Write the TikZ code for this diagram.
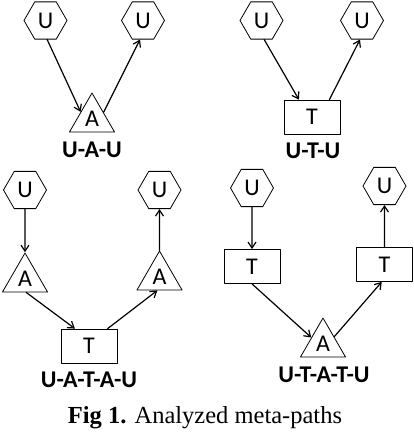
\documentclass[tikz,border=0pt]{standalone}
\usepackage{fontspec}
\setmainfont{Liberation Serif}
\setsansfont{Carlito}
\usetikzlibrary{shapes.geometric,arrows.meta}
\begin{document}
\begin{tikzpicture}[x=1pt,y=-1pt,>={Straight Barb[length=6pt,width=8pt]}, line join=round, line cap=round,
  font=\sffamily\fontsize{24}{27}\selectfont,
  user/.style={draw,regular polygon,regular polygon sides=6,minimum size=43pt,inner sep=0pt,line width=.8pt},
  tag/.style={draw,regular polygon,regular polygon sides=3,minimum size=52pt,inner sep=0pt,line width=.8pt},
  term/.style={draw,rectangle,minimum width=56pt,minimum height=34pt,inner sep=0pt,line width=.8pt},
  pathname/.style={font=\sffamily\bfseries\fontsize{24}{27}\selectfont,inner sep=0pt},
  link/.style={->,line width=1.2pt}]
\useasboundingbox (0,0) rectangle (414,432);
% U-A-U
\node[user] (u1) at (45.5,20.5) {U};
\node[user] (u2) at (143,20.5) {U};
\node[tag] (a1) at (92,119) {A};
\node[pathname] (p1) at (92,149.5) {U-A-U};
\draw[link] (u1.-85) -- (a1.148);
\draw[link] (a1.30) -- (u2.-99);
% U-T-U
\node[user] (u3) at (261.5,20.5) {U};
\node[user] (u4) at (362,20.5) {U};
\node[term] (t1) at (312,117) {T};
\node[pathname] (p2) at (313,151) {U-T-U};
\draw[link] (u3.-82) -- (t1.127);
\draw[link] (t1.45) -- (u4.-96);
% U-A-T-A-U
\node[user] (u5) at (25,190) {U};
\node[tag] (a2) at (25,279) {A};
\node[term] (t2) at (89,346) {T};
\node[tag] (a3) at (159.5,277) {A};
\node[user] (u6) at (159.5,190) {U};
\node[pathname] (p3) at (89,380) {U-A-T-A-U};
\draw[link] (u5) -- (a2);
\draw[link] (a2.-85) -- (t2.129);
\draw[link] (t2.43) -- (a3.-99);
\draw[link] (a3) -- (u6);
% U-T-A-T-U
\node[user] (u7) at (252,188) {U};
\node[term] (t3) at (252,266.5) {T};
\node[tag] (a4) at (323,344) {A};
\node[term] (t4) at (384.5,264.5) {T};
\node[user] (u8) at (384.5,186) {U};
\node[pathname] (p4) at (324,375) {U-T-A-T-U};
\draw[link] (u7) -- (t3);
\draw[link] (t3.south) -- (a4.151);
\draw[link] (a4.33) -- (t4.-99);
\draw[link] (t4) -- (u8);
% caption
\node[font=\rmfamily\fontsize{24.5}{27}\selectfont,anchor=base,inner sep=0pt] (cap) at (205,423) {\textbf{Fig 1.} Analyzed meta-paths};
\end{tikzpicture}
\end{document}
